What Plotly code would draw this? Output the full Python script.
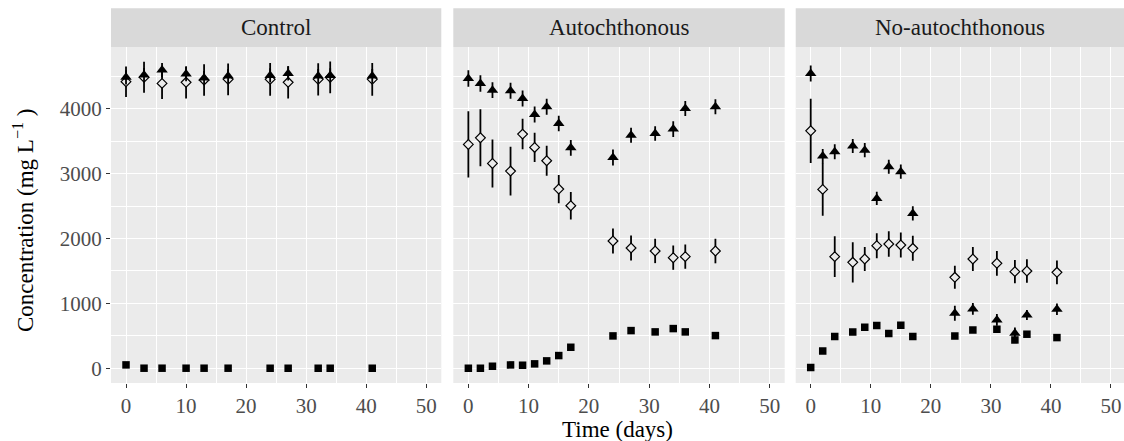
import plotly.graph_objects as go

# ---------------- data ----------------
panels = ["Control", "Autochthonous", "No-autochthonous"]

days_control = [0, 3, 6, 10, 13, 17, 24, 27, 32, 34, 41]
days_treat = [0, 2, 4, 7, 9, 11, 13, 15, 17, 24, 27, 31, 34, 36, 41]

# Control
ctrl_tri = [4484, 4520, 4597, 4535, 4473, 4504, 4514, 4545, 4504, 4514, 4504]
ctrl_tri_sd = [110, 110, 110, 110, 110, 110, 110, 110, 110, 110, 110]
ctrl_dia = [4417, 4484, 4391, 4407, 4443, 4453, 4453, 4407, 4453, 4484, 4453]
ctrl_dia_sd = [236, 239, 241, 249, 244, 244, 252, 249, 249, 244, 252]
ctrl_sq = [51, 0, 0, 0, 0, 0, 0, 0, 0, 0, 0]

# Autochthonous
auto_tri = [4466, 4389, 4286, 4276, 4158, 3912, 4030, 3773, 3398, 3250, 3593, 3619, 3686, 4004, 4030]
auto_tri_sd = [128, 128, 121, 123, 123, 123, 123, 121, 121, 123, 116, 113, 121, 116, 116]
auto_dia = [3450, 3552, 3157, 3039, 3609, 3404, 3198, 2762, 2505, 1961, 1853, 1807, 1704, 1720, 1807]
auto_dia_sd = [510, 440, 370, 375, 235, 225, 230, 218, 213, 193, 193, 187, 187, 187, 190]
auto_sq = [0, 0, 31, 51, 46, 67, 113, 195, 323, 498, 580, 560, 611, 560, 503]

# No-autochthonous
noau_tri = [4543, 3270, 3337, 3424, 3362, 2618, 3106, 3029, 2387, 847, 914, 744, 539, 821, 909]
noau_tri_sd = [123, 110, 115, 108, 110, 103, 108, 110, 108, 115, 90, 90, 90, 77, 90]
noau_dia = [3660, 2757, 1720, 1632, 1684, 1889, 1915, 1899, 1848, 1401, 1684, 1617, 1489, 1499, 1478]
noau_dia_sd = [495, 406, 315, 310, 185, 193, 198, 193, 193, 177, 185, 190, 180, 180, 182]
noau_sq = [10, 267, 488, 560, 631, 657, 534, 662, 488, 498, 590, 601, 436, 524, 472]

x_ticks = [0, 10, 20, 30, 40, 50]
x_minor = [5, 15, 25, 35, 45]
y_ticks = [0, 1000, 2000, 3000, 4000]
y_minor = [500, 1500, 2500, 3500, 4500]

# ---------------- figure ----------------
FONT = "Liberation Serif"
W, H = 1124, 441
ML, MR, MT, MB = 111, 0, 47, 58
PW = W - ML - MR
PH = H - MT - MB
Y_RANGE = [-228, 4952]

def px_to_xp(px):
    return (px - ML) / PW

def py_to_yp(py):
    return (H - MB - py) / PH

domains = [
    [px_to_xp(111), px_to_xp(441.3)],
    [px_to_xp(453.3), px_to_xp(784.7)],
    [px_to_xp(795.7), 1.0],
]
px_per_day = 330.3 / 55.0
w3 = (1124 - 795.7)
xranges = [[-2.5, 52.5], [-2.5, 52.5], [-2.5, -2.5 + w3 / px_per_day]]

data_sets = [
    (days_control, ctrl_dia, ctrl_dia_sd, ctrl_tri, ctrl_tri_sd, ctrl_sq),
    (days_treat, auto_dia, auto_dia_sd, auto_tri, auto_tri_sd, auto_sq),
    (days_treat, noau_dia, noau_dia_sd, noau_tri, noau_tri_sd, noau_sq),
]

fig = go.Figure()
for i, (d, dia, dia_sd, tri, tri_sd, sq) in enumerate(data_sets):
    xa = "x" if i == 0 else f"x{i+1}"
    ya = "y" if i == 0 else f"y{i+1}"
    fig.add_trace(go.Scatter(
        x=d, y=dia, mode="markers", xaxis=xa, yaxis=ya,
        marker=dict(symbol="diamond", size=7.5, color="#EBEBEB",
                    line=dict(color="black", width=1.2)),
        error_y=dict(type="data", array=dia_sd, visible=True, color="black",
                     thickness=1.8, width=0),
        showlegend=False, hoverinfo="x+y"))
    fig.add_trace(go.Scatter(
        x=d, y=tri, mode="markers", xaxis=xa, yaxis=ya,
        marker=dict(symbol="triangle-up", size=10, color="black"),
        error_y=dict(type="data", array=tri_sd, visible=True, color="black",
                     thickness=1.8, width=0),
        showlegend=False, hoverinfo="x+y"))
    fig.add_trace(go.Scatter(
        x=d, y=sq, mode="markers", xaxis=xa, yaxis=ya,
        marker=dict(symbol="square", size=7.5, color="black"),
        showlegend=False, hoverinfo="x+y"))

tick_common = dict(
    showline=False, zeroline=False, showgrid=True,
    gridcolor="white", gridwidth=1.4,
    ticks="outside", ticklen=4, tickwidth=1.1, tickcolor="#333333",
    tickfont=dict(family=FONT, size=21, color="#4D4D4D"),
)

layout = dict(
    width=W, height=H,
    margin=dict(l=ML, r=MR, t=MT, b=MB, autoexpand=False),
    paper_bgcolor="white", plot_bgcolor="#EBEBEB",
    font=dict(family=FONT, color="black"),
    showlegend=False,
)

for i in range(3):
    key = "xaxis" if i == 0 else f"xaxis{i+1}"
    layout[key] = dict(
        tick_common, domain=domains[i], range=xranges[i],
        anchor="y" if i == 0 else f"y{i+1}",
        tickvals=x_ticks, ticktext=[str(t) for t in x_ticks],
        minor=dict(tickvals=x_minor, showgrid=True,
                   gridcolor="white", gridwidth=0.7, ticks=""),
    )
    ykey = "yaxis" if i == 0 else f"yaxis{i+1}"
    layout[ykey] = dict(
        tick_common, domain=[0, 1], range=Y_RANGE,
        anchor="x" if i == 0 else f"x{i+1}",
        tickvals=y_ticks, ticktext=[str(t) for t in y_ticks],
        showticklabels=(i == 0), ticks="outside" if i == 0 else "",
        minor=dict(tickvals=y_minor, showgrid=True,
                   gridcolor="white", gridwidth=0.7, ticks=""),
    )
fig.update_layout(**layout)

# strips
shapes = []
strip_top = py_to_yp(8.3)
for i in range(3):
    shapes.append(dict(type="rect", xref="paper", yref="paper",
                       x0=domains[i][0], x1=domains[i][1], y0=1, y1=strip_top,
                       fillcolor="#D9D9D9", line=dict(width=0), layer="below"))
fig.update_layout(shapes=shapes)

annotations = []
for i, name in enumerate(panels):
    annotations.append(dict(
        text=name, xref="paper", yref="paper",
        x=(domains[i][0] + domains[i][1]) / 2, y=(1 + strip_top) / 2,
        xanchor="center", yanchor="middle", showarrow=False,
        font=dict(family=FONT, size=23, color="#1A1A1A")))
annotations.append(dict(
    text="Time (days)", xref="paper", yref="paper",
    x=px_to_xp(617), y=py_to_yp(429), xanchor="center", yanchor="middle",
    showarrow=False, font=dict(family=FONT, size=23, color="black")))
annotations.append(dict(
    text="Concentration (mg L<sup>\u22121</sup> )", xref="paper", yref="paper",
    x=px_to_xp(24), y=py_to_yp(221), xanchor="center", yanchor="middle",
    textangle=-90, showarrow=False,
    font=dict(family=FONT, size=23, color="black")))
fig.update_layout(annotations=annotations)

fig.write_html("out.html",
               config={"displayModeBar": False},
               post_script="document.body.style.margin='0px';document.body.style.overflow='hidden';")
